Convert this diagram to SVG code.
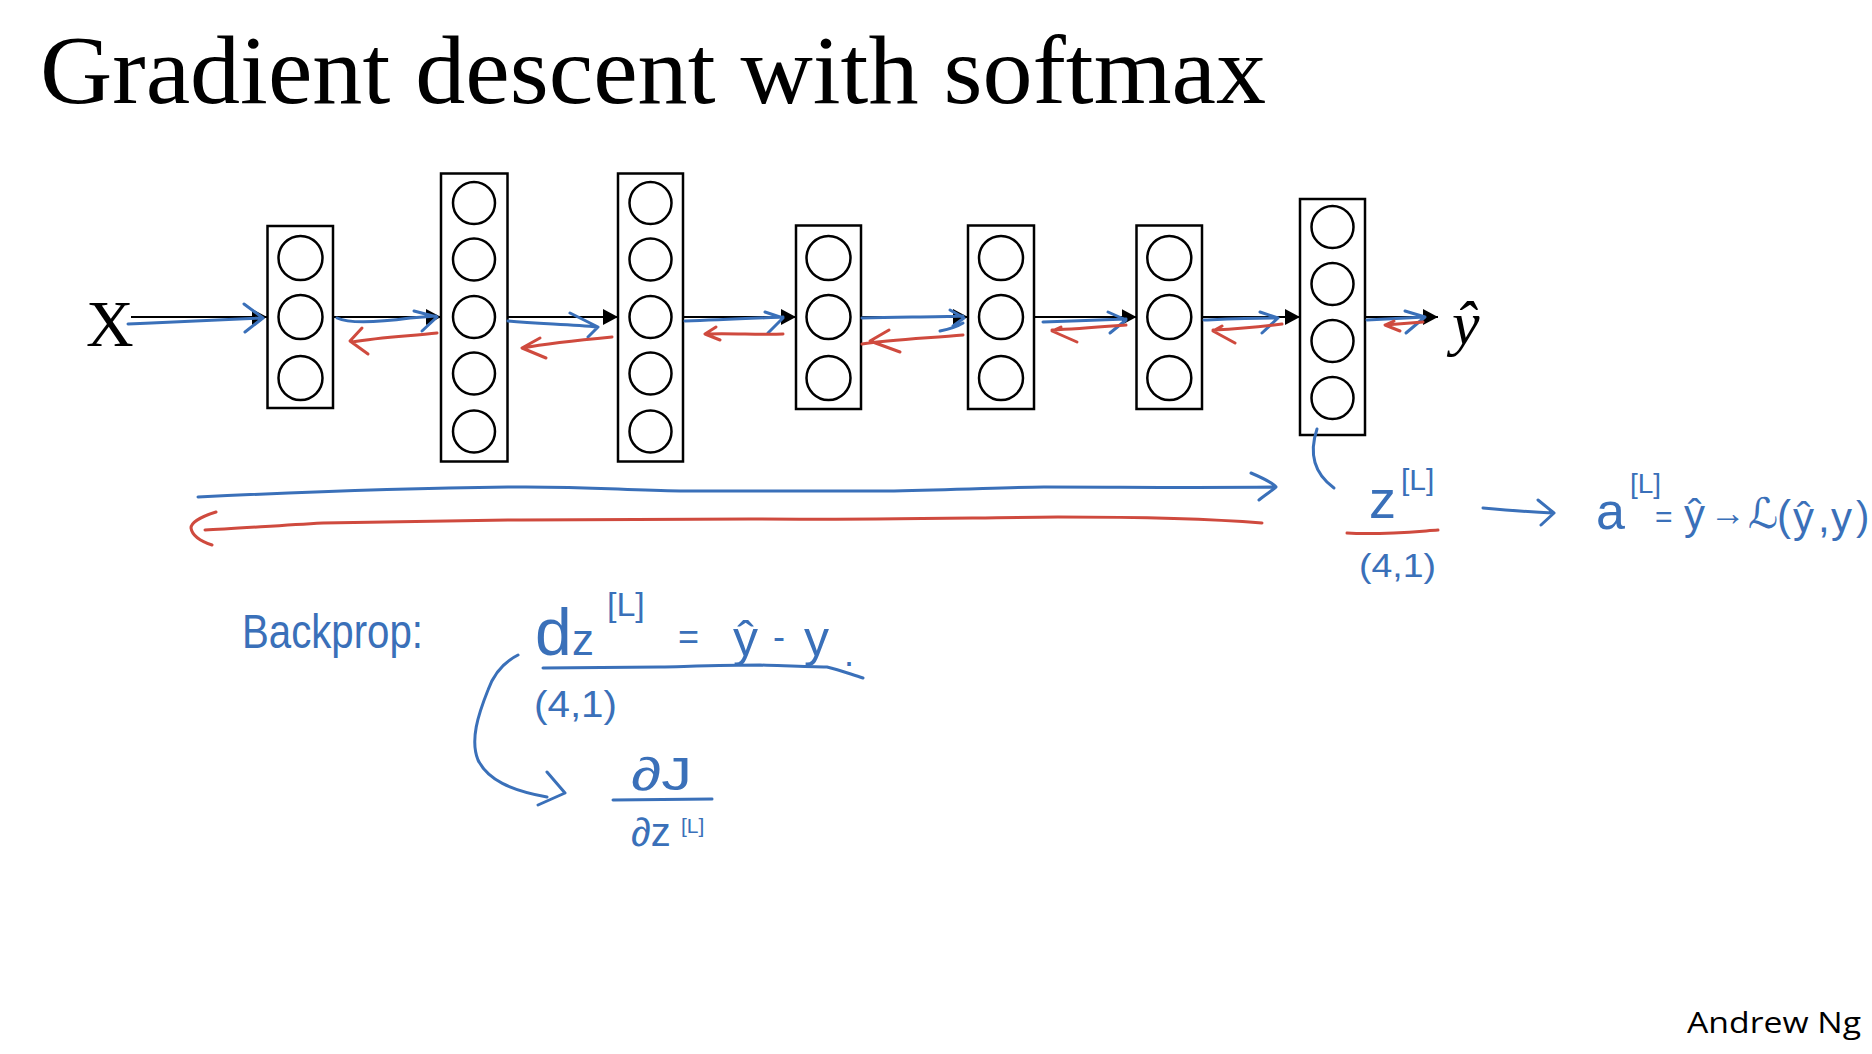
<svg xmlns="http://www.w3.org/2000/svg" width="1872" height="1054" viewBox="0 0 1872 1054">
<style>
.box{fill:none;stroke:#000;stroke-width:2.5}
.nd{fill:none;stroke:#000;stroke-width:2.5}
.conn{stroke:#000;stroke-width:2;fill:none}
.bl{fill:none;stroke:#3a70b9;stroke-width:3;stroke-linecap:round;stroke-linejoin:round}
.rd{fill:none;stroke:#cf4a3e;stroke-width:3;stroke-linecap:round;stroke-linejoin:round}
.serif{font-family:"Liberation Serif","Times New Roman",serif;fill:#000}
.hw{font-family:"Liberation Sans","DejaVu Sans",sans-serif;fill:#3a70b9}
</style>
<defs>
<marker id="tri" markerUnits="userSpaceOnUse" markerWidth="16" markerHeight="16" refX="15" refY="8" orient="auto">
<path d="M0,0 L15,8 L0,16 z" fill="#000"/>
</marker>
</defs>
<rect width="1872" height="1054" fill="#fff"/>
<text class="serif" x="40" y="103" font-size="97" textLength="1226" lengthAdjust="spacingAndGlyphs">Gradient descent with softmax</text>

<g id="input"><text class="serif" x="86" y="346" font-size="66">X</text></g>
<g id="output"><text class="serif" x="1452" y="344" font-size="62" font-style="italic">ŷ</text></g>

<g id="layer1">
<rect class="box" x="267.5" y="226" width="65.5" height="182"/>
<circle class="nd" cx="300.5" cy="258" r="22"/><circle class="nd" cx="300.5" cy="317" r="22"/><circle class="nd" cx="300.5" cy="378" r="22"/>
</g>
<g id="layer2">
<rect class="box" x="441" y="173.5" width="66.5" height="288"/>
<circle class="nd" cx="474" cy="203" r="21"/><circle class="nd" cx="474" cy="259.5" r="21"/><circle class="nd" cx="474" cy="317" r="21"/><circle class="nd" cx="474" cy="373.5" r="21"/><circle class="nd" cx="474" cy="431.5" r="21"/>
</g>
<g id="layer3">
<rect class="box" x="618" y="173.5" width="65" height="288"/>
<circle class="nd" cx="650.5" cy="203" r="21"/><circle class="nd" cx="650.5" cy="259.5" r="21"/><circle class="nd" cx="650.5" cy="317" r="21"/><circle class="nd" cx="650.5" cy="373.5" r="21"/><circle class="nd" cx="650.5" cy="431.5" r="21"/>
</g>
<g id="layer4">
<rect class="box" x="796" y="225.5" width="65" height="183.5"/>
<circle class="nd" cx="828.5" cy="258" r="22"/><circle class="nd" cx="828.5" cy="317" r="22"/><circle class="nd" cx="828.5" cy="378" r="22"/>
</g>
<g id="layer5">
<rect class="box" x="968" y="225.5" width="66" height="183.5"/>
<circle class="nd" cx="1001" cy="258" r="22"/><circle class="nd" cx="1001" cy="317" r="22"/><circle class="nd" cx="1001" cy="378" r="22"/>
</g>
<g id="layer6">
<rect class="box" x="1136.5" y="225.5" width="65.5" height="183.5"/>
<circle class="nd" cx="1169.3" cy="258" r="22"/><circle class="nd" cx="1169.3" cy="317" r="22"/><circle class="nd" cx="1169.3" cy="378" r="22"/>
</g>
<g id="layer7">
<rect class="box" x="1300" y="199" width="65" height="236"/>
<circle class="nd" cx="1332.5" cy="227" r="21"/><circle class="nd" cx="1332.5" cy="284" r="21"/><circle class="nd" cx="1332.5" cy="341" r="21"/><circle class="nd" cx="1332.5" cy="398" r="21"/>
</g>

<g id="connectors">
<line class="conn" x1="131" y1="317" x2="267" y2="317" marker-end="url(#tri)"/>
<line class="conn" x1="333" y1="317" x2="441" y2="317" marker-end="url(#tri)"/>
<line class="conn" x1="507.5" y1="317" x2="618" y2="317" marker-end="url(#tri)"/>
<line class="conn" x1="683" y1="317" x2="796" y2="317" marker-end="url(#tri)"/>
<line class="conn" x1="861" y1="317" x2="968" y2="317" marker-end="url(#tri)"/>
<line class="conn" x1="1034" y1="317" x2="1136.5" y2="317" marker-end="url(#tri)"/>
<line class="conn" x1="1202" y1="317" x2="1300" y2="317" marker-end="url(#tri)"/>
<line class="conn" x1="1365" y1="317" x2="1438" y2="317" marker-end="url(#tri)"/>
</g>

<g id="forward-backward-strokes">
<path class="bl" d="M128,324 C170,322 210,320 262,318 M244,304 L263,318 L245,332"/>
<path class="bl" d="M337,318 C350,324 380,322 410,318 L436,316 M414,311 L437,317 L422,331"/>
<path class="rd" d="M437,333 C410,336 380,337 352,342 M362,328 L350,341 L368,354"/>
<path class="bl" d="M508,321 C540,324 570,324 598,327 M570,313 L598,327 L588,337"/>
<path class="rd" d="M612,337 C580,340 550,343 522,348 M540,338 L522,348 L546,358"/>
<path class="bl" d="M685,321 C720,320 760,318 783,317 M765,312 L783,318 L768,333"/>
<path class="rd" d="M783,334 C760,335 730,333 706,334 M716,327 L705,334 L720,340"/>
<path class="bl" d="M862,318 C900,317 930,317 963,316 M950,310 L964,318 L953,326 M963,323 C955,328 945,330 940,331"/>
<path class="rd" d="M963,335 C930,338 890,340 862,344 M889,330 L870,341 L900,352"/>
<path class="bl" d="M1043,322 C1070,321 1100,320 1126,319 M1108,312 L1126,320 L1110,333"/>
<path class="rd" d="M1126,325 C1100,327 1075,329 1052,330 M1061,327 L1052,331 L1077,342"/>
<path class="bl" d="M1204,320 C1230,319 1255,318 1278,318 M1260,312 L1278,318 L1262,333"/>
<path class="rd" d="M1282,324 C1260,327 1235,329 1213,330 M1222,326 L1213,331 L1235,343"/>
<path class="bl" d="M1367,320 C1385,319 1405,318 1425,317 M1405,311 L1425,317 L1406,333"/>
<path class="rd" d="M1423,322 C1410,323 1398,324 1385,325 M1394,321 L1385,325 L1400,331"/>
<path class="bl" d="M198,497 C300,492 420,488 508,487 C580,486 620,490 680,491 C780,491 850,491 894,491 C960,490 1010,487 1044,487 C1120,487 1200,488 1276,487 M1251,473 C1265,479 1273,483 1276,487 C1270,492 1264,496 1259,500"/>
<path class="rd" d="M1262,523 C1200,518 1120,517 1058,517 C950,518 850,520 751,519 C650,520 580,520 508,520 C420,521 370,522 323,523 C270,526 230,529 205,530 M216,512 C200,517 191,523 191,528 C192,535 200,541 212,545"/>
<path class="bl" d="M1317,429 C1310,450 1312,472 1334,488"/>
<path class="rd" d="M1347,533 C1380,535 1410,532 1438,530"/>
<path class="bl" d="M1483,508 C1505,510 1530,512 1553,513 M1538,500 L1554,513 L1541,525"/>
<path class="bl" d="M543,668 C580,668 620,667 660,667 C700,666 730,665 760,665 C790,666 810,667 827,667 C840,670 850,674 863,678"/>
<path class="bl" d="M518,655 C508,660 495,670 488,690 C478,715 470,740 478,760 C488,780 510,790 547,797 M547,772 L565,793 L538,805"/>
<path class="bl" d="M613,800 L712,799"/>
</g>

<g id="annotations">
<text class="hw" x="1369" y="518" font-size="54">z</text>
<text class="hw" x="1401" y="490" font-size="30">[L]</text>
<text class="hw" x="1359" y="577" font-size="34" textLength="77" lengthAdjust="spacingAndGlyphs">(4,1)</text>
<text class="hw" x="1596" y="529" font-size="52">a</text>
<text class="hw" x="1630" y="493" font-size="28">[L]</text>
<text class="hw" x="1655" y="527" font-size="30">=</text>
<text class="hw" x="1684" y="529" font-size="42">ŷ</text>
<text class="hw" x="1710" y="525" font-size="36">→</text>
<text class="hw" x="1748" y="528" font-size="42">ℒ</text>
<text class="hw" x="1777" y="530" font-size="42">(</text>
<text class="hw" x="1793" y="532" font-size="42">ŷ</text>
<text class="hw" x="1818" y="532" font-size="42">,</text>
<text class="hw" x="1831" y="532" font-size="42">y</text>
<text class="hw" x="1856" y="530" font-size="40">)</text>

<text class="hw" x="242" y="648" font-size="48" textLength="181" lengthAdjust="spacingAndGlyphs">Backprop:</text>
<text class="hw" x="535" y="655" font-size="66">d</text>
<text class="hw" x="572" y="655" font-size="44">z</text>
<text class="hw" x="607" y="616" font-size="34">[L]</text>
<text class="hw" x="678" y="649" font-size="36">=</text>
<text class="hw" x="733" y="656" font-size="50">ŷ</text>
<text class="hw" x="773" y="649" font-size="36">-</text>
<text class="hw" x="804" y="656" font-size="50">y</text>
<text class="hw" x="844" y="666" font-size="36">.</text>
<text class="hw" x="534" y="717" font-size="36" textLength="83" lengthAdjust="spacingAndGlyphs">(4,1)</text>
<text class="hw" x="631" y="790" font-size="46" textLength="61" lengthAdjust="spacingAndGlyphs">∂J</text>
<text class="hw" x="631" y="846" font-size="40">∂z</text>
<text class="hw" x="681" y="833" font-size="21">[L]</text>
</g>

<text x="1687" y="1033" font-family="'Open Sans','Noto Sans',sans-serif" font-size="30" textLength="174" lengthAdjust="spacingAndGlyphs" fill="#000">Andrew Ng</text>
</svg>
